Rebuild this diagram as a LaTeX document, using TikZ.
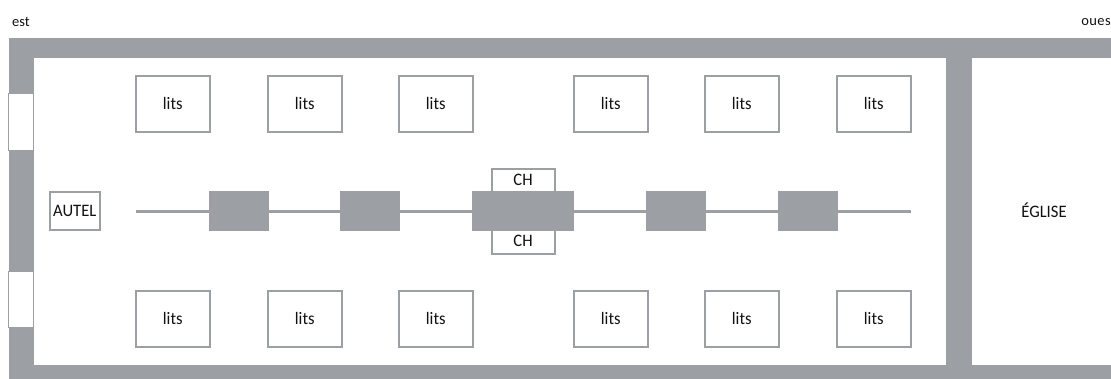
\documentclass[tikz,border=0pt]{standalone}
\usepackage{fontspec}
\setmainfont{Carlito}
\newfontfamily\narrowfont[FakeStretch=0.95]{Carlito}
\definecolor{wallgray}{HTML}{9C9FA3}
\definecolor{ink}{HTML}{111111}
\tikzset{
  x=1pt,y=-1pt,
  label text/.style={text=ink,font=\narrowfont\fontsize{17.5}{19}\selectfont,inner sep=0pt},
  small text/.style={text=ink,font=\fontsize{14.5}{16}\selectfont,inner sep=0pt},
  outlined/.style={draw=wallgray,line width=2pt,fill=white,minimum height=56pt,anchor=north west,label text},
  litbox/.style={outlined,minimum width=73.5pt,text depth=2pt},
  pier/.style={fill=wallgray,draw=none,inner sep=0pt,anchor=north west,minimum height=40pt},
  beam/.style={draw=wallgray,line width=3pt},
  win/.style={draw=wallgray,line width=1pt,fill=white}
}
\begin{document}
\begin{tikzpicture}
\useasboundingbox (0,0) rectangle (1111,379);
% walls
\fill[wallgray] (9,38) rectangle (1111,379);
\fill[white] (34,58) rectangle (946,365);
\fill[white] (972,58) rectangle (1111,365);
% windows
\draw[win] (8.5,94) rectangle (33,150.5);
\draw[win] (8.5,271.5) rectangle (33,327.5);
% beds
\foreach \n/\x in {a/135,b/267,c/398,d/573,e/704,f/836}{
  \node[litbox] (top\n) at (\x,75) {lits};
  \node[litbox] (bot\n) at (\x,290) {lits};
}
% altar
\node[outlined,minimum width=50.5pt,minimum height=38.5pt] (autel) at (48.5,191) {AUTEL};
% side chapels (behind central block)
\node[outlined,minimum width=63pt,minimum height=30pt] (chtopbox) at (490.5,168) {};
\node[outlined,minimum width=63pt,minimum height=31pt] (chbotbox) at (490.5,222.5) {};
% central line
\coordinate (linestart) at (136,211.3);
\coordinate (lineend) at (911,211.3);
\draw[beam] (linestart) -- (lineend);
% piers
\node[pier,minimum width=60pt] (p1) at (209,191) {};
\node[pier,minimum width=60pt] (p2) at (340,191) {};
\node[pier,minimum width=102pt] (p3) at (472,191) {};
\node[pier,minimum width=60pt] (p4) at (646,191) {};
\node[pier,minimum width=60pt] (p5) at (778,191) {};
% texts
\node[label text] (chtop) at (523,180) {CH};
\node[label text] (chbot) at (523,241) {CH};
\node[label text] (eglise) at (1044,210.5) {ÉGLISE};
\node[small text,anchor=west] (est) at (12,22) {est};
\node[small text,anchor=east] (ouest) at (1111,22) {\addfontfeature{LetterSpace=3}oues};
\end{tikzpicture}
\end{document}
